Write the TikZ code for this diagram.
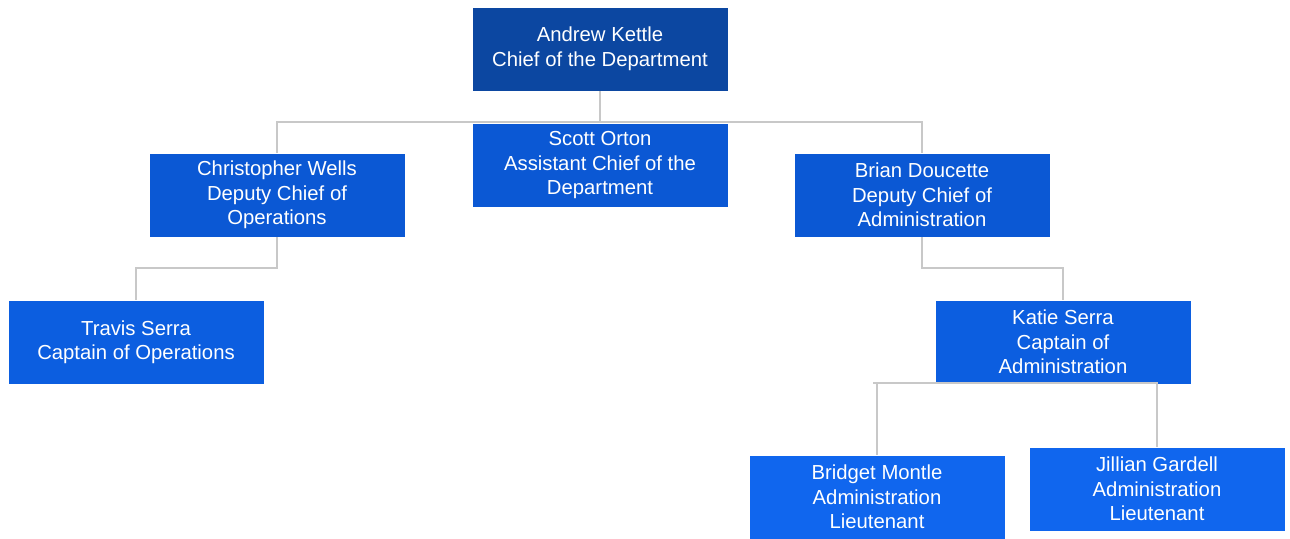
\documentclass[tikz,border=0pt]{standalone}
\usepackage{fontspec}
\setmainfont{Liberation Sans}
\definecolor{topblue}{HTML}{0C47A1}
\definecolor{midblue}{HTML}{0B58D4}
\definecolor{lowblue}{HTML}{0C5EE0}
\definecolor{botblue}{HTML}{1066EE}
\definecolor{linegray}{HTML}{C8C8C8}
\tikzset{
  person/.style={rectangle, draw=white, line width=0.8pt, minimum width=256pt, minimum height=84pt,
    text=white, align=center, inner xsep=0pt, inner ysep=0pt, font=\fontsize{20.3}{24.5}\selectfont},
  link/.style={draw=linegray, line width=1.4pt}
}
\begin{document}
\begin{tikzpicture}[x=1pt,y=1pt]
\useasboundingbox (0,0) rectangle (1290,-538);
\node[person, fill=topblue] (A) at (600,-49) {Andrew Kettle\\Chief of the Department};
\node[person, fill=midblue] (S) at (600,-165.5) {Scott Orton\\Assistant Chief of the\\Department};
\node[person, fill=midblue] (C) at (277,-195) {Christopher Wells\\Deputy Chief of\\Operations};
\node[person, fill=midblue] (B) at (922,-195) {Brian Doucette\\Deputy Chief of\\Administration};
\node[person, fill=lowblue] (T) at (136,-342) {Travis Serra\\Captain of Operations};
\node[person, fill=lowblue] (K) at (1063,-342) {Katie Serra\\Captain of\\Administration};
\node[person, fill=botblue] (BM) at (877,-497) {Bridget Montle\\Administration\\Lieutenant};
\node[person, fill=botblue] (JG) at (1157,-489) {Jillian Gardell\\Administration\\Lieutenant};
\coordinate (j1) at (600,-122);
\coordinate (j2) at (277,-268);
\coordinate (j3) at (922,-268);
\coordinate (j4) at (873,-383);
\begin{scope}[on background layer/.try]
\draw[link] (A.south) -- (j1);
\draw[link] (C.north) |- (j1) -| (B.north);
\draw[link] (C.south) -- (j2) -| (T.north);
\draw[link] (B.south) -- (j3) -| (K.north);
\draw[link] (j4) -| (JG.north);
\draw[link] (BM.north) -- (BM.north |- j4);
\end{scope}
\end{tikzpicture}
\end{document}
